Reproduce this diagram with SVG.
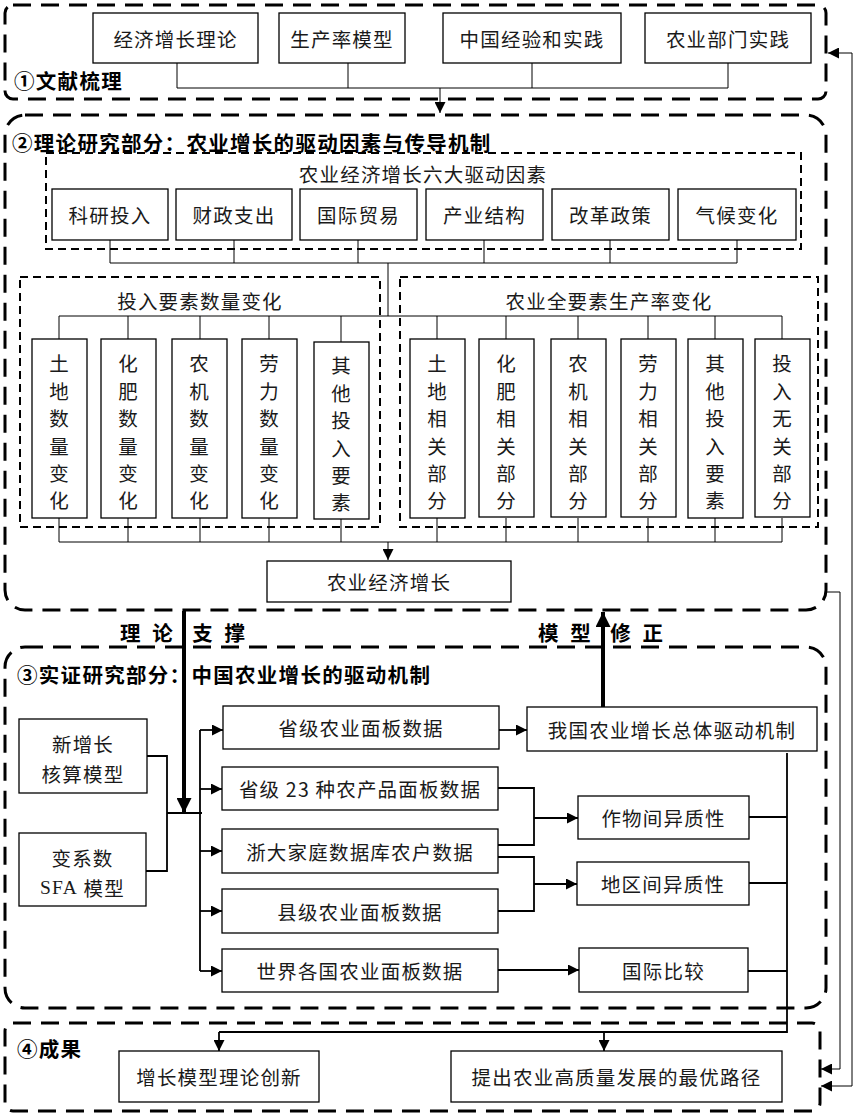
<svg xmlns="http://www.w3.org/2000/svg" width="856" height="1117" viewBox="0 0 856 1117">
<style>
text{font-family:"Noto Sans CJK SC","Noto Sans",sans-serif;font-size:19.5px;fill:#1a1a1a;letter-spacing:1.2px}
.c{text-anchor:middle;dominant-baseline:central}
.b{font-weight:bold;fill:#000;font-size:20.5px;letter-spacing:1.3px}
.sec{fill:none;stroke:#000;stroke-width:3;stroke-dasharray:18 10}
.grp{fill:none;stroke:#000;stroke-width:2;stroke-dasharray:8 5}
.box{fill:#fff;stroke:#000;stroke-width:1.3}
.ln{fill:none;stroke:#000;stroke-width:1}
.ln2{fill:none;stroke:#000;stroke-width:1.8}
.thk{fill:none;stroke:#000;stroke-width:4}
</style>
<defs>
<marker id="a" viewBox="0 0 10 10" refX="10" refY="5" markerWidth="11" markerHeight="11" markerUnits="userSpaceOnUse" orient="auto-start-reverse"><path d="M0,0L10,5L0,10z" fill="#000"/></marker>
<marker id="at" viewBox="0 0 10 10" refX="10" refY="5" markerWidth="15" markerHeight="15" markerUnits="userSpaceOnUse" orient="auto"><path d="M0,0L10,5L0,10z" fill="#000"/></marker>
</defs>
<rect width="856" height="1117" fill="#fff"/>

<g id="sections">
<rect class="sec" x="5" y="5" width="821" height="94" rx="8"/>
<rect class="sec" x="5" y="115" width="821" height="495" rx="20"/>
<rect class="sec" x="5" y="647" width="821" height="361" rx="20"/>
<rect class="sec" x="5" y="1023" width="815" height="88" rx="8"/>
<rect class="grp" x="46" y="153" width="755" height="96"/>
<rect class="grp" x="20" y="277" width="360" height="250"/>
<rect class="grp" x="400" y="277" width="418" height="250"/>
<text class="b" x="14" y="80" dominant-baseline="central">①文献梳理</text>
<text class="b" x="12" y="142" dominant-baseline="central">②理论研究部分：农业增长的驱动因素与传导机制</text>
<text class="b" x="17" y="674" dominant-baseline="central">③实证研究部分：中国农业增长的驱动机制</text>
<text class="b" x="17" y="1048" dominant-baseline="central">④成果</text>
<text class="c" x="423" y="173">农业经济增长六大驱动因素</text>
<text class="c" x="200" y="300">投入要素数量变化</text>
<text class="c" x="609" y="300">农业全要素生产率变化</text>
<text class="b" x="120" y="632" dominant-baseline="central" style="letter-spacing:3.5px">理 论 <tspan dx="8">支 撑</tspan></text>
<text class="b" x="538" y="632" dominant-baseline="central" style="letter-spacing:3.5px">模 型 <tspan dx="8">修 正</tspan></text>
</g>

<g id="connectors">
<path class="ln" d="M177,63V88M348,63V88M532,63V88M728,63V88M177,88H728"/>
<path class="ln" d="M440,88V113" marker-end="url(#a)"/>
<path class="ln" d="M110,240V263M234,240V263M358,240V263M484,240V263M610,240V263M737,240V263M110,263H737M388,263V316"/>
<path class="ln" d="M59,316H782M59,316V339M128,316V339M200,316V339M269,316V339M341,316V342M437,316V339M506,316V339M578,316V339M648,316V339M715,316V339M782,316V339"/>
<path class="ln" d="M59,518V542M128,518V542M200,518V542M269,518V542M341,519V542M437,518V542M506,518V542M578,518V542M648,518V542M715,518V542M782,518V542M59,542H782"/>
<path class="ln" d="M388,542V560" marker-end="url(#a)"/>
<path class="thk" d="M184,611V813" marker-end="url(#at)"/>
<path class="thk" d="M603,707V612" marker-end="url(#at)"/>
<path class="ln2" d="M147,756H167V871H146M167,813H202M200,730V971"/>
<path class="ln2" d="M200,730H223" marker-end="url(#a)"/>
<path class="ln2" d="M200,789H222" marker-end="url(#a)"/>
<path class="ln2" d="M200,851H222" marker-end="url(#a)"/>
<path class="ln2" d="M200,911H222" marker-end="url(#a)"/>
<path class="ln2" d="M200,971H222" marker-end="url(#a)"/>
<path class="ln2" d="M499,730H527" marker-end="url(#a)"/>
<path class="ln2" d="M498,788H534V845H498M498,857H534V911H498"/>
<path class="ln2" d="M534,818H578" marker-end="url(#a)"/>
<path class="ln2" d="M534,884H577" marker-end="url(#a)"/>
<path class="ln2" d="M498,970H579" marker-end="url(#a)"/>
<path class="ln2" d="M787,753V1032H219M749,817H787M749,883H787M748,971H787"/>
<path class="ln2" d="M219,1032V1051" marker-end="url(#a)"/>
<path class="ln2" d="M604,1032V1051" marker-end="url(#a)"/>
<path class="ln" d="M826,592H840V1069H821" marker-end="url(#a)"/>
<path class="ln" d="M821,1086H852V53H828" marker-start="url(#a)" marker-end="url(#a)"/>
</g>

<g id="n1"><rect class="box" x="93" y="13" width="165" height="50"/><text class="c" x="175.5" y="38">经济增长理论</text></g>
<g id="n2"><rect class="box" x="279" y="13" width="126" height="50"/><text class="c" x="342" y="38">生产率模型</text></g>
<g id="n3"><rect class="box" x="443" y="13" width="178" height="50"/><text class="c" x="532" y="38">中国经验和实践</text></g>
<g id="n4"><rect class="box" x="645" y="13" width="166" height="50"/><text class="c" x="728" y="38">农业部门实践</text></g>

<g id="f1"><rect class="box" x="52" y="189" width="116" height="51"/><text class="c" x="110" y="214">科研投入</text></g>
<g id="f2"><rect class="box" x="176" y="189" width="116" height="51"/><text class="c" x="234" y="214">财政支出</text></g>
<g id="f3"><rect class="box" x="300" y="189" width="117" height="51"/><text class="c" x="358.5" y="214">国际贸易</text></g>
<g id="f4"><rect class="box" x="426" y="189" width="117" height="51"/><text class="c" x="484.5" y="214">产业结构</text></g>
<g id="f5"><rect class="box" x="552" y="189" width="117" height="51"/><text class="c" x="610.5" y="214">改革政策</text></g>
<g id="f6"><rect class="box" x="678" y="189" width="118" height="51"/><text class="c" x="737" y="214">气候变化</text></g>

<g id="q1"><rect class="box" x="32" y="339" width="55" height="179"/><text class="c"><tspan x="59.5" y="362">土</tspan><tspan x="59.5" y="390">地</tspan><tspan x="59.5" y="417">数</tspan><tspan x="59.5" y="445">量</tspan><tspan x="59.5" y="472">变</tspan><tspan x="59.5" y="499">化</tspan></text></g>
<g id="q2"><rect class="box" x="101" y="339" width="55" height="179"/><text class="c"><tspan x="128.5" y="362">化</tspan><tspan x="128.5" y="390">肥</tspan><tspan x="128.5" y="417">数</tspan><tspan x="128.5" y="445">量</tspan><tspan x="128.5" y="472">变</tspan><tspan x="128.5" y="499">化</tspan></text></g>
<g id="q3"><rect class="box" x="172" y="339" width="55" height="179"/><text class="c"><tspan x="199.5" y="362">农</tspan><tspan x="199.5" y="390">机</tspan><tspan x="199.5" y="417">数</tspan><tspan x="199.5" y="445">量</tspan><tspan x="199.5" y="472">变</tspan><tspan x="199.5" y="499">化</tspan></text></g>
<g id="q4"><rect class="box" x="242" y="339" width="55" height="179"/><text class="c"><tspan x="269.5" y="362">劳</tspan><tspan x="269.5" y="390">力</tspan><tspan x="269.5" y="417">数</tspan><tspan x="269.5" y="445">量</tspan><tspan x="269.5" y="472">变</tspan><tspan x="269.5" y="499">化</tspan></text></g>
<g id="q5"><rect class="box" x="314" y="342" width="55" height="177"/><text class="c"><tspan x="341.5" y="364">其</tspan><tspan x="341.5" y="392">他</tspan><tspan x="341.5" y="419">投</tspan><tspan x="341.5" y="447">入</tspan><tspan x="341.5" y="474">要</tspan><tspan x="341.5" y="501">素</tspan></text></g>

<g id="p1"><rect class="box" x="410" y="339" width="55" height="179"/><text class="c"><tspan x="437.5" y="362">土</tspan><tspan x="437.5" y="390">地</tspan><tspan x="437.5" y="417">相</tspan><tspan x="437.5" y="445">关</tspan><tspan x="437.5" y="472">部</tspan><tspan x="437.5" y="499">分</tspan></text></g>
<g id="p2"><rect class="box" x="479" y="339" width="55" height="178"/><text class="c"><tspan x="506.5" y="362">化</tspan><tspan x="506.5" y="390">肥</tspan><tspan x="506.5" y="417">相</tspan><tspan x="506.5" y="445">关</tspan><tspan x="506.5" y="472">部</tspan><tspan x="506.5" y="499">分</tspan></text></g>
<g id="p3"><rect class="box" x="551" y="339" width="55" height="178"/><text class="c"><tspan x="578.5" y="362">农</tspan><tspan x="578.5" y="390">机</tspan><tspan x="578.5" y="417">相</tspan><tspan x="578.5" y="445">关</tspan><tspan x="578.5" y="472">部</tspan><tspan x="578.5" y="499">分</tspan></text></g>
<g id="p4"><rect class="box" x="621" y="339" width="55" height="178"/><text class="c"><tspan x="648.5" y="362">劳</tspan><tspan x="648.5" y="390">力</tspan><tspan x="648.5" y="417">相</tspan><tspan x="648.5" y="445">关</tspan><tspan x="648.5" y="472">部</tspan><tspan x="648.5" y="499">分</tspan></text></g>
<g id="p5"><rect class="box" x="688" y="339" width="55" height="179"/><text class="c"><tspan x="715.5" y="362">其</tspan><tspan x="715.5" y="390">他</tspan><tspan x="715.5" y="417">投</tspan><tspan x="715.5" y="445">入</tspan><tspan x="715.5" y="472">要</tspan><tspan x="715.5" y="499">素</tspan></text></g>
<g id="p6"><rect class="box" x="755" y="339" width="55" height="178"/><text class="c"><tspan x="782.5" y="362">投</tspan><tspan x="782.5" y="390">入</tspan><tspan x="782.5" y="417">无</tspan><tspan x="782.5" y="445">关</tspan><tspan x="782.5" y="472">部</tspan><tspan x="782.5" y="499">分</tspan></text></g>

<g id="growth"><rect class="box" x="267" y="561" width="244" height="41"/><text class="c" x="389" y="581.5">农业经济增长</text></g>

<g id="m1"><rect class="box" x="19" y="719" width="128" height="74"/><text class="c"><tspan x="83" y="743">新增长</tspan><tspan x="83" y="773">核算模型</tspan></text></g>
<g id="m2"><rect class="box" x="19" y="833" width="127" height="73"/><text class="c"><tspan x="82.5" y="857">变系数</tspan><tspan x="82.5" y="887"><tspan style="font-family:'Liberation Serif',serif">SFA</tspan> 模型</tspan></text></g>

<g id="d1"><rect class="box" x="223" y="706" width="276" height="43"/><text class="c" x="361" y="727.5">省级农业面板数据</text></g>
<g id="d2"><rect class="box" x="222" y="767" width="276" height="43"/><text class="c" x="360" y="788.5">省级 23 种农产品面板数据</text></g>
<g id="d3"><rect class="box" x="222" y="829" width="276" height="44"/><text class="c" x="360" y="851">浙大家庭数据库农户数据</text></g>
<g id="d4"><rect class="box" x="222" y="889" width="276" height="44"/><text class="c" x="360" y="911">县级农业面板数据</text></g>
<g id="d5"><rect class="box" x="222" y="949" width="276" height="43"/><text class="c" x="360" y="970.5">世界各国农业面板数据</text></g>

<g id="r0"><rect class="box" x="527" y="707" width="290" height="44"/><text class="c" x="672" y="729">我国农业增长总体驱动机制</text></g>
<g id="r1"><rect class="box" x="578" y="796" width="171" height="43"/><text class="c" x="663.5" y="817.5">作物间异质性</text></g>
<g id="r2"><rect class="box" x="577" y="862" width="172" height="43"/><text class="c" x="663" y="883.5">地区间异质性</text></g>
<g id="r3"><rect class="box" x="579" y="948" width="169" height="44"/><text class="c" x="663.5" y="970">国际比较</text></g>

<g id="o1"><rect class="box" x="119" y="1051" width="200" height="51"/><text class="c" x="219" y="1076.5">增长模型理论创新</text></g>
<g id="o2"><rect class="box" x="451" y="1051" width="331" height="51"/><text class="c" x="616.5" y="1076.5">提出农业高质量发展的最优路径</text></g>
</svg>
